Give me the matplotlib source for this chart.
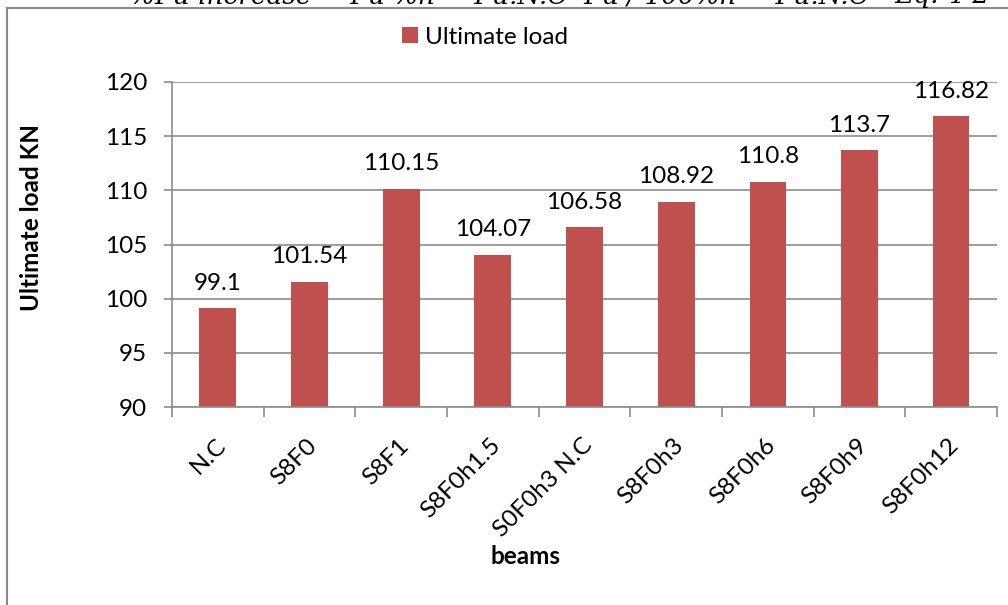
import matplotlib
matplotlib.use("Agg")
import matplotlib.pyplot as plt
from matplotlib.patches import Rectangle, Patch
from matplotlib.transforms import ScaledTranslation
import numpy as np

# Beam specimens and their ultimate loads (kN)
beams = ["N.C", "S8F0", "S8F1", "S8F0h1.5", "S0F0h3 N.C",
         "S8F0h3", "S8F0h6", "S8F0h9", "S8F0h12"]
ultimate_load = [99.1, 101.54, 110.15, 104.07, 106.58, 108.92, 110.8, 113.7, 116.82]
value_labels = ["99.1", "101.54", "110.15", "104.07", "106.58",
                "108.92", "110.8", "113.7", "116.82"]
y_ticks = [90, 95, 100, 105, 110, 115, 120]

plt.rcParams["font.family"] = ["Lato", "DejaVu Sans"]

BAR = "#C0504D"
GRID = "#8C8C8C"
FS = 17.5

fig = plt.figure(figsize=(10.08, 6.05), dpi=100)
W, H = 1008, 605

# outer chart frame (runs off the right and bottom edges)
fig.patches.append(Rectangle((7 / W, -0.05), 1.2, 1 - 8 / H + 0.05,
                             transform=fig.transFigure, fill=False,
                             edgecolor="#8A8A8A", linewidth=1.5))

# equation line above the chart, mostly cut off by the top edge
eq_style = dict(fontsize=19, family="DejaVu Serif", style="italic",
                va="baseline", color="black")
fig.text(130 / W, 1 - 3 / H,
         "%Pu increase = Pu %h \u2212 Pu.N.C  Pu / 100%h \u2212 Pu.N.C",
         ha="left", **eq_style)
fig.text(990 / W, 1 - 3 / H, "Eq. 4-2", ha="right", **eq_style)

ax = fig.add_axes([172 / W, 1 - 407 / H, (997 - 172) / W, (407 - 82) / H])

x = np.arange(len(beams))
ax.bar(x, ultimate_load, width=0.4, color=BAR, zorder=3)

for xi, v, lab in zip(x, ultimate_load, value_labels):
    ax.annotate(lab, (xi, v), xytext=(0, 13.5), textcoords="offset points",
                ha="center", va="baseline", fontsize=FS, color="black")

ax.set_ylim(90, 120)
ax.set_xlim(-0.5, len(beams) - 0.5)
ax.set_yticks(y_ticks)
ax.yaxis.grid(True, color=GRID, linewidth=1.2, zorder=0)
ax.tick_params(axis="y", direction="out", length=6, width=1.2, color=GRID,
               labelsize=FS, pad=12)

# category boundaries carry the tick marks; labels sit at the centres
ax.set_xticks(x)
ax.set_xticklabels(beams, rotation=45, ha="right", rotation_mode="anchor",
                   fontsize=FS)
ax.tick_params(axis="x", which="major", length=0, pad=20)
shift = ScaledTranslation(-3 / 100, 0, fig.dpi_scale_trans)
for lab in ax.get_xticklabels():
    lab.set_transform(lab.get_transform() + shift)
ax.set_xticks(np.arange(-0.5, len(beams), 1.0), minor=True)
ax.tick_params(axis="x", which="minor", direction="out", length=7, width=1.2,
               color=GRID)

for s in ["top", "right"]:
    ax.spines[s].set_visible(False)
for s in ["left", "bottom"]:
    ax.spines[s].set_color(GRID)
    ax.spines[s].set_linewidth(1.2)
    ax.spines[s].set_zorder(4)

fig.text(32 / W, 1 - 217 / H, "Ultimate load KN", rotation=90,
         ha="center", va="center", fontsize=FS, fontweight="bold")
fig.text(526 / W, 1 - 557 / H, "beams", ha="center", va="center",
         fontsize=FS, fontweight="bold")

fig.legend(handles=[Patch(facecolor=BAR, label="Ultimate load")],
           loc="center", bbox_to_anchor=(485 / W, 1 - 37 / H),
           frameon=False, fontsize=FS, handlelength=0.65, handleheight=0.65,
           handletextpad=0.3, borderpad=0)

fig.savefig("out.png", dpi=100)
